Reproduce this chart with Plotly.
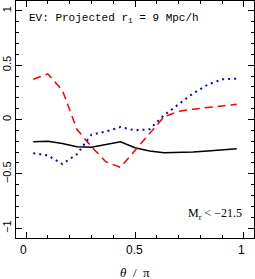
import plotly.graph_objects as go

theta = [0.0333, 0.1, 0.1667, 0.2333, 0.3, 0.3667, 0.4333, 0.5, 0.5667, 0.6333, 0.7, 0.7667, 0.8333, 0.9, 0.9667]
black = [-0.205, -0.2, -0.22, -0.25, -0.255, -0.23, -0.205, -0.26, -0.29, -0.305, -0.305, -0.3, -0.29, -0.28, -0.27]
red = [0.37, 0.42, 0.27, -0.09, -0.25, -0.39, -0.44, -0.28, -0.13, 0.025, 0.075, 0.095, 0.11, 0.125, 0.14]
blue = [-0.31, -0.33, -0.41, -0.32, -0.14, -0.11, -0.07, -0.1, -0.09, 0.04, 0.14, 0.24, 0.32, 0.37, 0.375]

xticks = [0, 0.5, 1]
xticklabels = ["0", "0.5", "1"]
yticks = [-1, -0.5, 0, 0.5, 1]
yticklabels = ["\u22121", "\u22120.5", "0", "0.5", "1"]

YMIN, YMAX = -1.09, 1.09

fig = go.Figure()
fig.add_trace(go.Scatter(x=theta, y=black, mode="lines", line=dict(color="black", width=1.5)))
fig.add_trace(go.Scatter(x=theta, y=red, mode="lines", line=dict(color="#ff0000", width=1.5, dash="8px,5px")))
fig.add_trace(go.Scatter(x=theta, y=blue, mode="lines", line=dict(color="#0000ff", width=2, dash="2px,4px")))

tickfont = dict(family="Liberation Sans", size=12, color="black")
annotations = [
    dict(x=0.005, y=0.93, xref="x", yref="y", xanchor="left", yanchor="middle",
         text="EV: Projected r<sub>1</sub> = 9 Mpc/h", showarrow=False,
         font=dict(family="Liberation Mono", size=11, color="black")),
    dict(x=1.0, y=-0.87, xref="x", yref="y", xanchor="right", yanchor="middle",
         text="M<sub>r</sub> &lt; \u221221.5", showarrow=False,
         font=dict(family="Liberation Serif", size=12, color="black")),
    dict(x=0.5, y=YMIN, xref="x", yref="y", xanchor="center", yanchor="middle", yshift=-34,
         text="<i>θ</i>  /  π", showarrow=False,
         font=dict(family="Liberation Serif", size=13, color="black")),
]
for v, t in zip(xticks, xticklabels):
    annotations.append(dict(x=v, y=YMIN, xref="x", yref="y", xanchor="right", yanchor="middle",
                            xshift=len(t) * 3.3, yshift=-12, text=t, showarrow=False, font=tickfont))

fig.update_layout(
    width=255, height=279,
    margin=dict(l=16, r=1, t=1, b=41),
    paper_bgcolor="white", plot_bgcolor="white",
    showlegend=False,
    font=dict(family="Liberation Serif", size=12, color="black"),
    xaxis=dict(range=[-0.046, 1.046], tickvals=xticks, showticklabels=False,
               ticks="inside", ticklen=6, tickwidth=1, tickcolor="black",
               showline=True, linecolor="black", linewidth=1, mirror="ticks",
               showgrid=False, zeroline=False, automargin=False,
               minor=dict(dtick=0.1, tick0=0, ticks="inside", ticklen=3, tickcolor="black", showgrid=False)),
    yaxis=dict(range=[YMIN, YMAX], tickvals=yticks, ticktext=yticklabels,
               ticks="inside", ticklen=6, tickwidth=1, tickcolor="black",
               showline=True, linecolor="black", linewidth=1, mirror="ticks",
               showgrid=False, zeroline=False, tickangle=-90, automargin=False,
               minor=dict(dtick=0.1, tick0=0, ticks="inside", ticklen=3, tickcolor="black", showgrid=False),
               tickfont=dict(family="Liberation Sans", size=11, color="black")),
    annotations=annotations,
)
fig.write_html("out.html", config={"displayModeBar": False},
               post_script="document.body.style.margin='0';document.body.style.overflow='hidden';")
